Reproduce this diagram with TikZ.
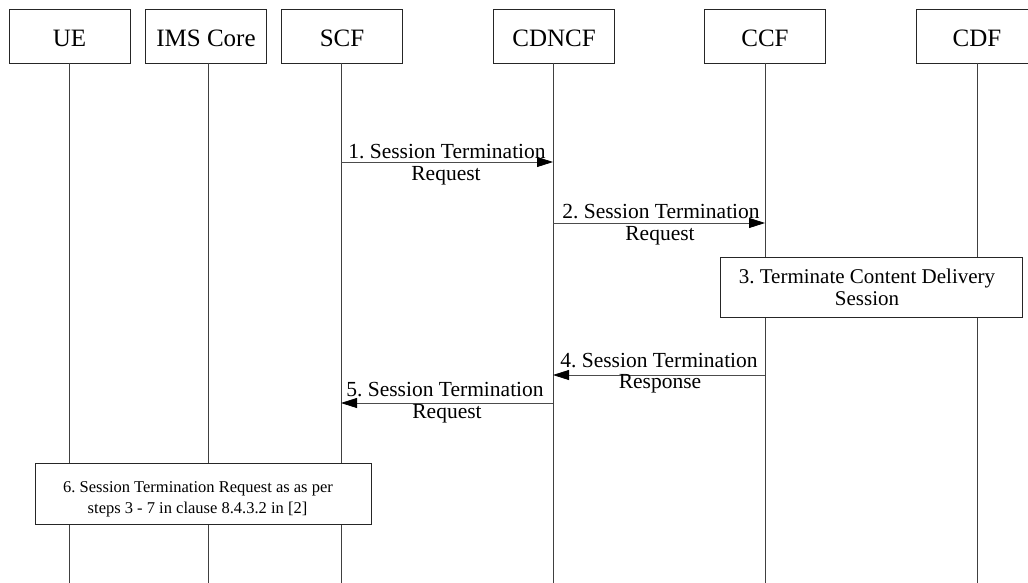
\documentclass[tikz,border=0pt]{standalone}
\usepackage{fontspec}
\setmainfont{Liberation Serif}
\usetikzlibrary{arrows.meta}
\begin{document}
\frenchspacing
\begin{tikzpicture}[x=1pt,y=-1pt,
  hdr/.style={draw=black!85,line width=0.8pt,minimum width=121pt,minimum height=54pt,inner sep=0pt},
  hdrtxt/.style={anchor=base,inner sep=0pt,font=\fontsize{25}{28}\selectfont},
  life/.style={draw=black!75,line width=0.8pt},
  msg/.style={draw=black!70,line width=0.8pt,-{Triangle[length=16pt,width=10pt,black]}},
  lbl/.style={anchor=base,inner sep=0pt,font=\fontsize{21.5}{24}\selectfont},
  act/.style={draw=black!85,line width=0.8pt,inner sep=0pt,fill=white},
  acttxt/.style={anchor=base,inner sep=0pt},
]
\useasboundingbox (0,0) rectangle (1028,583);
% lifeline heads
\node[hdr] (ue)   at (69.5,36) {};
\node[hdr] (ims)  at (206,36) {};
\node[hdr] (scf)  at (342,36) {};
\node[hdr] (cdn)  at (554,36) {};
\node[hdr] (ccf)  at (765,36) {};
\node[hdr] (cdf)  at (977,36) {};
\node[hdrtxt] (tue)  at (69.5,47) {UE};
\node[hdrtxt] (tims) at (206,47) {IMS Core};
\node[hdrtxt] (tscf) at (342,47) {SCF};
\node[hdrtxt] (tcdn) at (554,47) {CDNCF};
\node[hdrtxt] (tccf) at (765,47) {CCF};
\node[hdrtxt] (tcdf) at (977,47) {CDF};
% lifelines
\coordinate (ueS)  at (69,63);  \coordinate (ueE)  at (69,583);
\coordinate (imsS) at (208,63); \coordinate (imsE) at (208,583);
\coordinate (scfS) at (341,63); \coordinate (scfE) at (341,583);
\coordinate (cdnS) at (553,63); \coordinate (cdnE) at (553,583);
\coordinate (ccfS) at (765,63); \coordinate (ccfE) at (765,583);
\coordinate (cdfS) at (977,63); \coordinate (cdfE) at (977,583);
\draw[life] (ueS) -- (ueE);
\draw[life] (imsS) -- (imsE);
\draw[life] (scfS) -- (scfE);
\draw[life] (cdnS) -- (cdnE);
\draw[life] (ccfS) -- (ccfE);
\draw[life] (cdfS) -- (cdfE);
% 1
\coordinate (m1a) at (341,162); \coordinate (m1b) at (553,162);
\draw[msg] (m1a) -- (m1b);
\node[lbl] (l1a) at (447,158) {1. Session Termination};
\node[lbl] (l1b) at (446,180) {Request};
% 2
\coordinate (m2a) at (553,223); \coordinate (m2b) at (765,223);
\draw[msg] (m2a) -- (m2b);
\node[lbl] (l2a) at (661,218.5) {2. Session Termination};
\node[lbl] (l2b) at (660,240.5) {Request};
% 3
\node[act,minimum width=302pt,minimum height=60pt] (a3) at (871,287) {};
\node[acttxt,font=\fontsize{21}{24}\selectfont] (t3a) at (867,283) {3. Terminate Content Delivery};
\node[acttxt,font=\fontsize{21}{24}\selectfont] (t3b) at (867,305) {Session};
% 4
\coordinate (m4a) at (765,375); \coordinate (m4b) at (553,375);
\draw[msg] (m4a) -- (m4b);
\node[lbl] (l4a) at (659,367) {4. Session Termination};
\node[lbl] (l4b) at (660,388) {Response};
% 5
\coordinate (m5a) at (553,403); \coordinate (m5b) at (341,403);
\draw[msg] (m5a) -- (m5b);
\node[lbl] (l5a) at (445,396) {5. Session Termination};
\node[lbl] (l5b) at (447,418) {Request};
% 6
\node[act,minimum width=336pt,minimum height=61pt] (a6) at (203,493.5) {};
\node[acttxt,font=\fontsize{16.5}{20}\selectfont] (t6a) at (198,492) {6. Session Termination Request as as per};
\node[acttxt,font=\fontsize{16.5}{20}\selectfont] (t6b) at (197.5,513) {steps 3 - 7 in clause 8.4.3.2 in [2]};
\end{tikzpicture}
\end{document}
